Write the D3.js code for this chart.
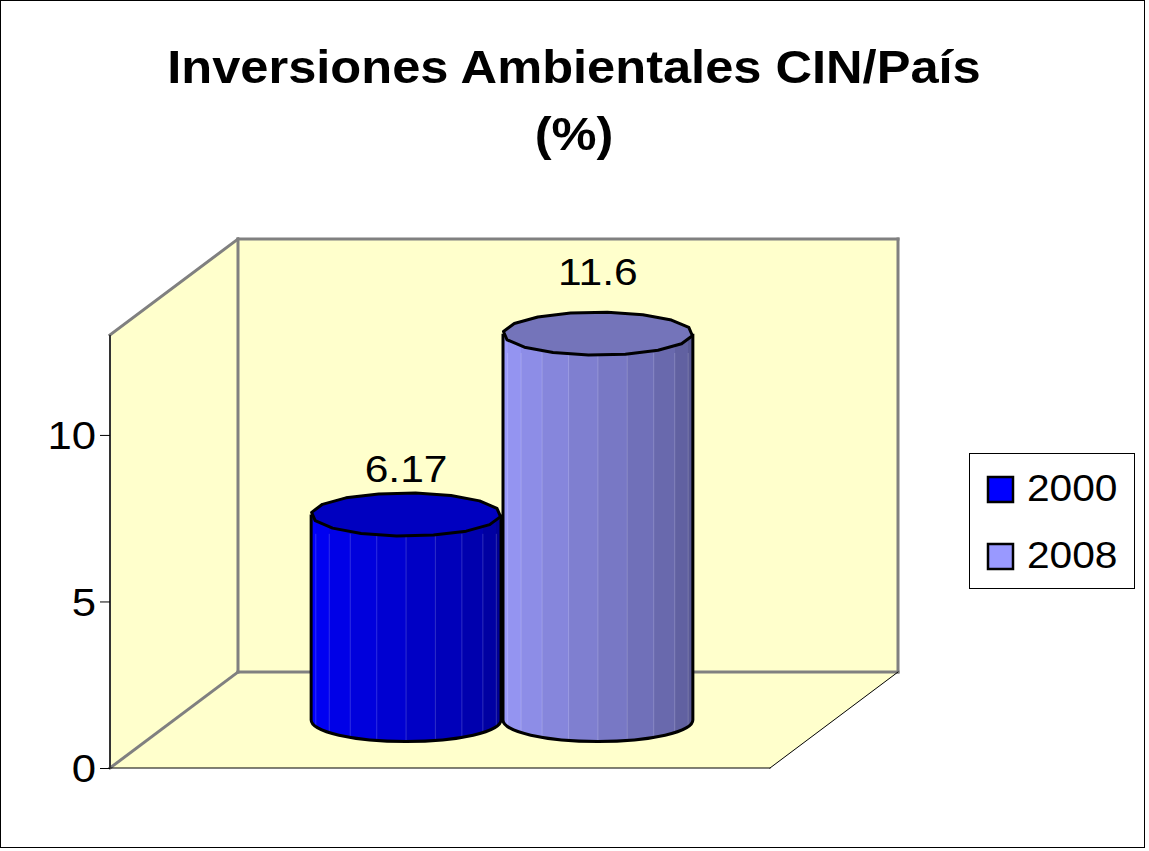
<!DOCTYPE html>
<html><head><meta charset="utf-8">
<script src="https://cdn.jsdelivr.net/npm/d3@7"></script>
<style>body{margin:0;background:#fff}svg{display:block;font-family:Arial,"Liberation Sans",sans-serif}</style>
</head><body><svg id="c" width="1149" height="851"></svg>
<script>
const titleLines = ["Inversiones Ambientales CIN/País", "(%)"];
const seriesNames = ["2000", "2008"];
const seriesValues = [6.17, 11.6];
const valueLabels = ["6.17", "11.6"];
const yTicks = [0, 5, 10];
const yMax = 13;
const sideLight = ["#0000FF", "#9D9DFF"];
const sideDark = ["#000090", "#55558F"];
const topColors = ["#0000C0", "#7474BA"];
const legendColors = ["#0000FF", "#9999FF"];

const svg = d3.select("#c");
const W = 1149, H = 851;

// outer border
svg.append("rect").attr("x", 0.5).attr("y", 0.5).attr("width", W - 5).attr("height", H - 4)
  .attr("fill", "#fff").attr("stroke", "#000").attr("stroke-width", 1);

// title
titleLines.forEach((t, i) => {
  svg.append("text").attr("text-anchor", "middle").attr("font-weight", "bold")
    .attr("font-size", 46).attr("transform", `translate(574,${83 + i * 67}) scale(1.1,1)`)
    .text(t);
});

// geometry
const fx0 = 110, fx1 = 770;      // front floor edge
const dx = 128, dy = -96;        // depth offset
const y = d3.scaleLinear().domain([0, yMax]).range([768, 335]);
const y0 = y(0), yT = y(yMax);
const wallFill = "#FFFFCC", wallEdge = "#808080";

// walls
svg.append("polygon").attr("points", [[fx0, y0], [fx0, yT], [fx0 + dx, yT + dy], [fx0 + dx, y0 + dy]].join(" "))
  .attr("fill", wallFill).attr("stroke", "none");
svg.append("rect").attr("x", fx0 + dx).attr("y", yT + dy).attr("width", fx1 - fx0).attr("height", y0 - yT)
  .attr("fill", wallFill);
svg.append("polygon").attr("points", [[fx0, y0], [fx0 + dx, y0 + dy], [fx1 + dx, y0 + dy], [fx1, y0]].join(" "))
  .attr("fill", wallFill);

const edge = (a, b, c, w) => svg.append("line").attr("x1", a[0]).attr("y1", a[1]).attr("x2", b[0]).attr("y2", b[1])
  .attr("stroke", c).attr("stroke-width", w).attr("stroke-linecap", "square");
edge([fx0, yT], [fx0 + dx, yT + dy], wallEdge, 3);
edge([fx0 + dx, yT + dy], [fx1 + dx, yT + dy], wallEdge, 3);
edge([fx0 + dx, yT + dy], [fx0 + dx, y0 + dy], wallEdge, 3);
edge([fx1 + dx, yT + dy], [fx1 + dx, y0 + dy], wallEdge, 3);
edge([fx0 + dx, y0 + dy], [fx1 + dx, y0 + dy], wallEdge, 3);
edge([fx0, y0], [fx0 + dx, y0 + dy], wallEdge, 3);
edge([fx0, y0], [fx1, y0], "#000", 1);
edge([fx1, y0], [fx1 + dx, y0 + dy], "#000", 1);

// y axis
const axis = d3.axisLeft(y).tickValues(yTicks).tickSize(10).tickPadding(5).tickFormat(d3.format("d"));
const ag = svg.append("g").attr("transform", `translate(${fx0},0)`).call(axis);
ag.select(".domain").attr("stroke", "#333").attr("stroke-width", 2).attr("d", `M0,${y0}V${yT}`);
ag.selectAll(".tick line").attr("stroke", "#000");
ag.selectAll(".tick text").attr("font-size", 38).attr("fill", "#000")
  .attr("font-family", "Arial, 'Liberation Sans', sans-serif")
  .attr("transform", "scale(1.15,1)").attr("x", -14 / 1.15).attr("dy", "0.36em");

// cylinders
const mdx = dx / 2, mdy = dy / 2;
const xb = d3.scaleBand().domain(seriesNames).range([fx0 + mdx - 2, fx1 + mdx - 2]).paddingInner(0).paddingOuter(0.72);
const rx = xb.bandwidth() / 2 - 1, ry = 21.5;
const defs = svg.append("defs");
const NF = 10;

seriesNames.forEach((s, i) => {
  const v = seriesValues[i];
  const cx = xb(s) + xb.bandwidth() / 2;
  const yb = y(0) + mdy, yt = y(v) + mdy;
  const col = d3.interpolateRgb(sideLight[i], sideDark[i]);
  const g = defs.append("linearGradient").attr("id", "g" + i).attr("gradientUnits", "userSpaceOnUse")
    .attr("x1", cx - rx).attr("x2", cx + rx).attr("y1", 0).attr("y2", 0);
  const xs = d3.range(NF + 1).map(k => cx - rx * Math.cos(k * Math.PI / NF));
  for (let k = 0; k < NF; k++) {
    const c = col(Math.pow((k + 0.5) / NF, 1.1));
    g.append("stop").attr("offset", (xs[k] - (cx - rx)) / (2 * rx)).attr("stop-color", c);
    g.append("stop").attr("offset", (xs[k + 1] - (cx - rx)) / (2 * rx)).attr("stop-color", c);
  }
  const cg = svg.append("g");
  cg.append("path")
    .attr("d", `M${cx - rx},${yt}L${cx - rx},${yb}A${rx},${ry} 0 0 0 ${cx + rx},${yb}L${cx + rx},${yt}Z`)
    .attr("fill", `url(#g${i})`);
  // facet edges
  xs.slice(1, NF).forEach(xx => {
    const yy = yb + ry * Math.sqrt(Math.max(0, 1 - Math.pow((xx - cx) / rx, 2)));
    cg.append("line").attr("x1", xx).attr("x2", xx).attr("y1", yt + ry * 0.9).attr("y2", yy)
      .attr("stroke", "#fff").attr("stroke-opacity", 0.18).attr("stroke-width", 1);
  });
  cg.append("path")
    .attr("d", `M${cx - rx},${yt}L${cx - rx},${yb}A${rx},${ry} 0 0 0 ${cx + rx},${yb}L${cx + rx},${yt}`)
    .attr("fill", "none").attr("stroke", "#000").attr("stroke-width", 3).attr("stroke-linejoin", "round");
  const pts = d3.range(16).map(k => {
    const a = k * 2 * Math.PI / 16 + 0.1;
    return [cx + rx * Math.cos(a), yt + ry * Math.sin(a)];
  });
  cg.append("path").attr("d", d3.line().curve(d3.curveLinearClosed)(pts))
    .attr("fill", topColors[i]).attr("stroke", "#000").attr("stroke-width", 3).attr("stroke-linejoin", "round");
  // data label (perspective-adjusted, above the cylinder)
  const ly = yb - (yb - yt) * 1.09 - 14;
  svg.append("text").attr("text-anchor", "middle").attr("font-size", 37)
    .attr("transform", `translate(${cx},${ly}) scale(1.15,1)`).text(valueLabels[i]);
});

// legend
const lg = svg.append("g").attr("transform", "translate(969,453)");
lg.append("rect").attr("x", 0.5).attr("y", 0.5).attr("width", 165).attr("height", 135)
  .attr("fill", "#fff").attr("stroke", "#000").attr("stroke-width", 1);
seriesNames.forEach((s, i) => {
  const ly = 24 + i * 67;
  lg.append("rect").attr("x", 19).attr("y", ly).attr("width", 25).attr("height", 25)
    .attr("fill", legendColors[i]).attr("stroke", "#000").attr("stroke-width", 2.5);
  lg.append("text").attr("font-size", 37).attr("transform", `translate(58,${ly + 24}) scale(1.1,1)`).text(s);
});
</script></body></html>
